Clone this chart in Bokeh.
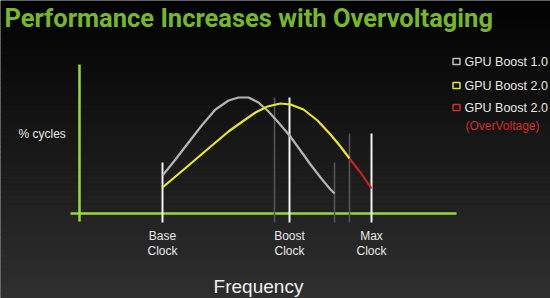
from bokeh.plotting import figure
from bokeh.models import Range1d
from bokeh.core.properties import value
from bokeh.embed import file_html
from bokeh.resources import INLINE

# Data (x = frequency position, y = % cycles)
gpu1_x = [84, 97, 110, 124, 137, 150, 160, 170, 180, 190, 200, 211, 222, 232, 242, 252, 256]
gpu1_y = [38, 54, 71, 89, 104, 113, 116, 116, 111, 102, 91, 78, 63, 49, 36, 24, 20]
gpu2_x = [84, 97, 110, 124, 137, 150, 164, 177, 189, 202, 212, 225, 239, 252, 262, 271]
gpu2_y = [26, 37, 48, 60, 71, 82, 92, 101, 107, 110, 109, 104, 93, 79, 67, 55]
ov_x = [271, 282, 293]
ov_y = [55, 41, 25]

clock_x = [84, 211, 293]
clock_top = [51, 116, 80]
clock_labels = ["Base\nClock", "Boost\nClock", "Max\nClock"]
limit_x = [196, 256, 271]
limit_top = [116, 51, 80]

legend_labels = ["GPU Boost 1.0", "GPU Boost 2.0", "GPU Boost 2.0"]
legend_colors = ["#c0c0c0", "#e6e62a", "#d42a2a"]

W, H = 550, 298
p = figure(width=W, height=H, x_range=Range1d(-78, 472), y_range=Range1d(-85, 213),
           min_border=0, toolbar_location=None, output_backend="svg")
p.axis.visible = False
p.grid.visible = False
p.outline_line_color = None
p.background_fill_color = "#000000"
p.border_fill_color = "#000000"

# gradient background
n = 60
tops, bots, cols = [], [], []
for i in range(n):
    t = 213 - i * 298 / n
    b = 213 - (i + 1) * 298 / n
    f = (i + 0.5) / n
    g = int(2 + f * 46)
    tops.append(t)
    bots.append(b - 0.5)
    cols.append("#%02x%02x%02x" % (g, g, g))
p.quad(left=-78, right=472, top=tops, bottom=bots, fill_color=cols, line_color=None)

axis_col = "#9ad83e"
# axes lines
p.segment(x0=[-8], y0=[0], x1=[378], y1=[0], line_color=axis_col, line_width=2.5)
p.segment(x0=[1], y0=[-8], x1=[1], y1=[149], line_color=axis_col, line_width=2.5)

# limit lines (gray) and clock lines (white)
p.segment(x0=limit_x, y0=[-9] * 3, x1=limit_x, y1=limit_top, line_color="#555555", line_width=1.6)
p.segment(x0=clock_x, y0=[-9] * 3, x1=clock_x, y1=clock_top, line_color="#f2f2f2", line_width=2)

# curves
p.line(gpu1_x, gpu1_y, line_color="#b4b4b4", line_width=2.2, line_join="round")
p.line(gpu2_x, gpu2_y, line_color="#e6e62a", line_width=2.2, line_join="round")
p.line(ov_x, ov_y, line_color="#c82028", line_width=2.2, line_join="round")

font = value("Liberation Sans")
# clock labels
for x, lab in zip(clock_x, clock_labels):
    top, bot = lab.split("\n")
    p.text(x=[x], y=[-22], text=[top], text_font=font, text_font_size="12px",
           text_color="#e8e8e8", text_align="center", text_baseline="middle")
    p.text(x=[x], y=[-37], text=[bot], text_font=font, text_font_size="12px",
           text_color="#e8e8e8", text_align="center", text_baseline="middle")

p.text(x=[180], y=[-73], text=["Frequency"], text_font=font, text_font_size="19px",
       text_color="#f0f0f0", text_align="center", text_baseline="middle")
p.text(x=[-60], y=[80], text=["% cycles"], text_font=font, text_font_size="12px",
       text_color="#e8e8e8", text_align="left", text_baseline="middle")

# title
p.text(x=[-74], y=[211], text=["Performance Increases with Overvoltaging"],
       text_font=value("Roboto"), text_font_size="25.5px", text_font_style="bold",
       text_color="#76b82a", text_align="left", text_baseline="top")

# legend
leg_y = [152, 128, 106]
p.rect(x=[378] * 3, y=leg_y, width=7, height=6, fill_color=None,
       line_color=legend_colors, line_width=1.5)
for yy, lab in zip(leg_y, legend_labels):
    p.text(x=[386], y=[yy], text=[lab], text_font=font, text_font_size="12.5px",
           text_color="#e8e8e8", text_align="left", text_baseline="middle")
p.text(x=[424], y=[88], text=["(OverVoltage)"], text_font=font, text_font_size="12px",
       text_color="#d42a2a", text_align="center", text_baseline="middle")

open("out.html", "w").write(file_html(p, INLINE))
